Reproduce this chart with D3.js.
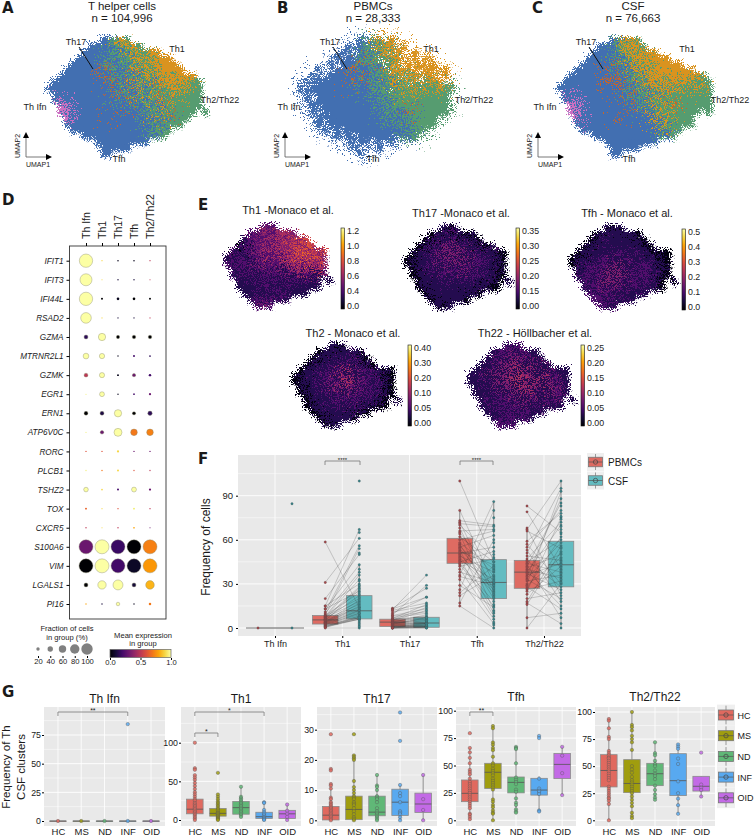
<!DOCTYPE html>
<html>
<head>
<meta charset="utf-8">
<script src="https://cdn.jsdelivr.net/npm/d3@7"></script>
<style>
body { margin: 0; background: #fff; }
text { font-family: "Liberation Sans", Arial, sans-serif; fill: #1a1a1a; }
</style>
</head>
<body>
<svg id="fig" width="755" height="837"></svg>
<script>
var umapA = [
	".........bbgog",
	".......bbbbggoog",
	"......bbbbbgbgoggoo",
	".....bbbbgbgbggoggooo",
	"....bbbbbbgbgbgogooooo",
	"...bbbbbbrbggbgoogooooo",
	"..bbbbbbbbrbbgbgogogooooo",
	".bbbbbbbbrbgbrbgbgogoooogg",
	"bbbbbbbbbbbrgbgogbggogoggg",
	".bbbbbbbbbbbgbogbggrgogggg",
	".bpbbbbbbbbbbgbgbggogggggg",
	"..ppbbbbbbbgbbrbgogbgggggg",
	"..ppbbbbbbbbbbbbgbogrgggg.g",
	"...pbbbbbbrbbbbbgbogbggg",
	"...bbbbbbbbbbbbbbgbgggg",
	"....bbbbbbbbbbbbbgbgg",
	"......bbbbbbbbbbbgbg",
	"........bbbbbbbbb",
	".........bbbbb",
	".........bb"
];
var umapB = [
	"..........b.go.o",
	"........b.bg.ogo.o",
	".......b..bgbgo.o..o",
	"......b.b.gbg.ggo..o.o",
	".....b.bbbbgrg.go.o.o.o",
	"...b..bbbrbbgbg.oo.o.oo.o",
	"..b..bbbbbrbbggog.go.o..o",
	".b.bbbbbrbgbbgbgog.g.goo.",
	"b.bbbbbbbbgbbgg.gogogogogg",
	".b.bbbbbbbbbgbgbggogggggg",
	".b.bbbbbbbbbbgbgggggggggg",
	"..b.bbbbbbbbbbgbggggggggg",
	"..b.bbbbbbbbbgbggbrgggggg",
	"...b.bbbbbbbbbbgbgbgggg",
	"...b.bbbbbbbbbbbbgbgggg",
	"....b.b.bbbbbbbbbgbgg",
	"......b.b.bbbbbb.gbg",
	"........b.b..b.b",
	".........b...b",
	"..........b."
];
var umapC = [
	".........bgoog",
	".......bbbgooog",
	"......bbbbggoogoo",
	".....bbbbgbgoogoooo",
	"....bbbbbbgbgooogoooo",
	"...bbbbbrbbggogoooooooo",
	"..bbbbbbrbbrbggoogoooooog",
	".bbbbbbbrbrbbgbgoogoogoogg",
	"bbbbbbbbbrbbgbgogogggoggog",
	".bbbbbbbbbbbgrbgobggrggggg",
	".bpbbbbbbbbbrgbggggogggggg",
	"..ppbbbbbbbbbgbgoggrgggggg",
	"..ppbbbbbbbbbbbobogogggg.g",
	"...pbbbbbbrbbbbbogogggg",
	"...bbbbbbbbbbbbbbgogggg",
	"....bbbbbbbbbbbbbgbgg",
	"......bbbbbbbbbbbgbg",
	"........bbbbbbbbb",
	".........bbbbb",
	".........bb"
];
var clusterKeys = ["b", "g", "o", "r", "p"];
var clusterColors = ["#426fb1", "#569c70", "#d9931f", "#c4652b", "#cb70c2"];

// gene score maps of panel E, one digit per cell (0 dark, 9 bright)
var scoreTh1 = [
	"......232",
	"....23342433",
	"...12232343435",
	"..0112324354535",
	".2122324243546435",
	"12122324243546453",
	"21212132323444354",
	".2121212213324243",
	".1212112112122212",
	"..11121212121121.1",
	"..11111212111111",
	"...11121112111",
	"....1212121",
	".....232"
];
var scoreTh17 = [
	"......101",
	"....01121101",
	"...0112121110",
	"..0112131211101",
	".0112123131212110",
	"01112131313121110",
	"01112131212121110",
	".0111212131212110",
	".0111212121211110",
	"..01111211121110.1",
	"..01111111111100",
	"...0111111110",
	"....0111110",
	".....101"
];
var scoreTfh = [
	"......101",
	"....01111110",
	"...0121111110",
	"..011111111110",
	".0111111211111100",
	"01111212121211100",
	"01112121312121110",
	".1212131312122110",
	".1212131312122110",
	"..21213131212110.1",
	"..12123121212110",
	"...2121212111",
	"....2212111",
	".....212"
];
var scoreTh2 = [
	"......101",
	"....01111110",
	"...0111112110",
	"..011112121210",
	".0111212131212110",
	"01112122413121110",
	"01112131413121210",
	".0111213132212110",
	".0111212131212110",
	"..01112121212110.1",
	"..01111212111100",
	"...0111111110",
	"....0111110",
	".....101"
];
var scoreTh22 = [
	"......212",
	"....12121211",
	"...1212131211",
	"..112131313121",
	".1112131413131211",
	"11213131413131211",
	"11213131413141321",
	".1112131314131321",
	".1112121313121321",
	"..12121213121221.1",
	"..11212122121111",
	"...1121212111",
	"....1212121",
	".....212"
];
var tickTh1 = ["1.2", "1.0", "0.8", "0.6", "0.4", "0.0"];
var tickTh17 = ["0.35", "0.30", "0.25", "0.20", "0.15", "0.00"];
var tickTfh = ["0.5", "0.4", "0.3", "0.2", "0.1", "0.0"];
var tickTh2 = ["0.40", "0.30", "0.20", "0.10", "0.05", "0.00"];
var tickTh22 = ["0.25", "0.20", "0.15", "0.10", "0.05", "0.00"];

// dot plot, panel D
var dotClusters = ["Th Ifn", "Th1", "Th17", "Tfh", "Th2/Th22"];
var dotGenes = ["IFIT1", "IFIT3", "IFI44L", "RSAD2", "GZMA", "MTRNR2L1", "GZMK", "EGR1", "ERN1", "ATP6V0C", "RORC", "PLCB1", "TSHZ2", "TOX", "CXCR5", "S100A6", "VIM", "LGALS1", "PI16"];
var dotFraction = [
	[95, 5, 7, 7, 5], [85, 4, 6, 6, 4], [95, 10, 15, 15, 10], [75, 4, 5, 5, 4],
	[25, 50, 20, 22, 22], [38, 35, 6, 10, 8], [24, 34, 10, 20, 14], [4, 32, 6, 8, 12],
	[24, 25, 50, 20, 28], [4, 22, 55, 45, 45], [6, 6, 12, 6, 6], [5, 6, 10, 5, 5],
	[30, 8, 10, 32, 12], [10, 4, 6, 10, 6], [6, 4, 6, 8, 4], [100, 100, 100, 100, 100],
	[100, 100, 100, 100, 100], [25, 58, 70, 25, 60], [6, 6, 22, 6, 14]
];
var dotMean = [
	[1, .9, .05, .05, .5], [1, .9, .1, .1, .5], [1, 0, .05, 0, 0], [1, .9, .1, .1, .5],
	[.15, 1, 0, 0, 0], [1, 1, .05, .2, .15], [.5, 1, .05, .3, .2], [.95, 1, .05, .2, .3],
	[0, .12, 1, 0, .15], [.95, .3, 1, .7, .72], [.6, .6, .9, .3, .3], [.95, .7, .9, .6, .5],
	[1, .9, .2, 1, .3], [.65, .9, .6, .95, .5], [.5, .9, .5, .8, .3], [.3, 1, .18, 0, .72],
	[0, 1, .2, .07, .77], [0, 1, 1, .1, .83], [.8, .1, 1, .05, .7]
];
var sizeLegend = [20, 40, 60, 80, 100];
var meanLegend = [0, 0.5, 1];

// paired frequencies, panel F (same index = same donor, extra CSF values have no partner)
var pairCats = ["Th Ifn", "Th1", "Th17", "Tfh", "Th2/Th22"];
var pairSources = ["PBMCs", "CSF"];
var pbmcIfn = [0];
var csfIfn = [0, 84.5];
var pbmcTh1 = [58.5, 31, 20, 15, 15, 13, 13, 11, 10, 9, 8.5, 8, 8, 7.5, 7, 7, 6.5, 6, 6, 5.5, 5, 5, 4.5, 4, 4, 3.5, 3.5, 3, 3, 2.5, 2.5, 2, 2, 1.5, 1.5, 1, 1, .5, .5, 0];
var csfTh1 = [14, 61, 50, 67, 30, 43, 25, 56, 38, 54, 24, 36, 20, 33, 18, 28, 27, 16, 22, 14, 26, 13, 12, 19, 11, 10, 17, 9, 15, 8, 12, 7, 10, 7, 6, 8, 6, 6, 7, 0, 100, 65, 51, 40, 32, 29, 23, 21, 5, 4, 3, 2, 1];
var pbmcTh17 = [13.5, 13, 12.5, 12, 11, 10, 9, 8.5, 8, 7, 6.5, 6, 6, 5.5, 5, 5, 4.5, 4, 4, 3.5, 3.5, 3, 3, 2.5, 2.5, 2, 2, 1.5, 1.5, 1, 1, .8, .5, .5, .2, .2, 0, 0, 0, 0];
var csfTh17 = [27, 21, 36, 17, 15, 21, 29, 13, 11, 10, 16, 8, 7, 14, 6, 12, 7, 5, 9, 4, 6, 3, 5, 3, 7, 2, 4, 2, 3, 1, 2, 1, 1, 3, .5, 1, 0, .5, 0, 2];
var pbmcTfh = [100, 80, 73, 72, 71, 70, 68, 66, 65, 64, 62, 60, 58, 57, 56, 55, 54, 53, 52, 51, 50, 49, 48, 47, 46, 45, 44, 43, 42, 40, 38, 36, 35, 33, 29, 26, 24, 22, 17, 15];
var csfTfh = [45, 30, 70, 25, 69, 48, 22, 67, 35, 12, 45, 66, 40, 20, 30, 63, 28, 10, 43, 55, 26, 38, 24, 8, 33, 52, 18, 15, 47, 6, 31, 86, 29, 3, 14, 80, 42, 36, 60, 0, 75, 4, 2, 58, 50, 41, 39, 34, 32, 27, 23, 21, 16, 11];
var pbmcTh2 = [83, 79, 68, 67, 66, 59, 57, 55, 53, 51, 49, 47, 46, 45, 44, 43, 42, 41, 40, 39, 38, 37, 36, 35, 34, 33, 32, 30, 29, 28, 27, 26, 25, 23, 20, 18, 17, 16, 7, 0];
var csfTh2 = [65, 40, 22, 100, 54, 78, 30, 80, 18, 95, 46, 72, 28, 60, 38, 7, 85, 50, 34, 15, 70, 26, 44, 88, 58, 20, 36, 93, 48, 13, 62, 32, 75, 42, 24, 56, 3, 52, 10, 30, 83, 67, 0, 76, 74, 69, 64, 55, 51, 47, 45, 43, 41, 39, 37, 35, 33, 31];
// low, q1, median, q3, high
var pbmcBoxes = [[0, 0, 0, 0, 0], [0, 2.7, 5.5, 8.5, 15], [0, 1, 4, 6, 13.5], [15, 44, 51, 61, 80], [0, 27, 38, 46, 68]];
var csfBoxes = [[0, 0, 0, 0, 0], [0, 6.2, 11.7, 22, 43], [0, .5, 3.4, 7.3, 17], [0, 20, 31, 46.5, 86], [0, 28, 43, 59, 100]];

// CSF frequencies per disease group, panel G
var groups = ["HC", "MS", "ND", "INF", "OID"];
var groupColors = ["#e0695f", "#a09d0e", "#60b877", "#58a9f0", "#c36ae6"];
var ifnDots = [[0], [0], [0], [84.5, 0], [0]];
var ifnBoxes = [[0, 0, 0, 0, 0], [0, 0, 0, 0, 0], [0, 0, 0, 0, 0], [0, 0, 0, 0, 0], [0, 0, 0, 0, 0]];
var th1Dots = [
	[100, 67, 65, 58, 55, 52, 48, 44, 40, 36, 33, 30, 27, 25, 22, 20, 18, 16, 14, 12, 10, 8, 6, 4, 2, 0],
	[61, 33, 30, 27, 24, 22, 20, 18, 16, 14, 12, 10, 9, 8, 7, 6, 5, 4, 3, 2, 1, 0],
	[43, 30, 28, 26, 24, 22, 20, 18, 16, 14, 12, 10, 8, 6, 4],
	[23, 22, 13, 10, 8, 6, 4, 3, 2, 1, 0],
	[20, 12, 8, 4, 0]
];
var th1Boxes = [[0, 8, 14, 27, 55], [0, 5, 8.6, 15, 30], [3, 7.5, 16, 24, 43], [0, 2, 4.3, 10, 22], [0, 2, 8, 12.5, 20]];
var th17Dots = [
	[28.5, 17, 16.5, 12, 11.5, 10.5, 7.5, 7, 6, 5.5, 5, 4.5, 4, 3.5, 3, 2.5, 2, 1.5, 1, .5, 0],
	[28.5, 21.5, 21, 20.5, 20, 13, 11, 10, 9, 8, 7.5, 7, 6, 5.5, 5, 4, 3, 2, 1, .5, 0],
	[15, 11.5, 11, 10, 8, 7.5, 7, 6, 4, 3, 2.5, 2, 1.5, 1, .5, 0],
	[35.7, 26.3, 11.7, 9, 8, 6, 3, 2.5, 2, 1, 0],
	[15, 7, 3.4, 0]
];
var th17Boxes = [[0, .1, 1.7, 4.6, 11], [0, .2, 3.6, 8, 20], [0, 1.5, 2.7, 8, 15], [0, 1.6, 6, 10.3, 11.7], [0, 2.6, 5.4, 9, 15]];
var tfhDots = [
	[79.5, 66, 62, 57, 52, 46, 44, 42, 38, 35, 33, 31, 29, 27, 25, 23, 21, 19, 17, 15, 13, 11, 6, 5, 3, 1],
	[86, 84, 71, 69, 66, 64, 58, 52, 50, 47, 45, 43, 41, 38, 36, 34, 32, 30, 28, 19, 17, 14, 12, 9, 7, 6, 0],
	[67, 66, 65, 52, 39, 37, 35, 33, 28, 26, 20, 16, 14, 10, 8, 7],
	[77, 75, 38, 29, 27, 26, 24, 9, 8],
	[67, 59, 43, 23]
];
var tfhBoxes = [[0, 17, 24.6, 36.8, 66], [0, 29, 43.8, 52, 86], [7, 25, 34.6, 39.5, 66], [8, 23, 27.6, 38.3, 40], [23, 38, 51, 61, 67]];
var th2Dots = [
	[93.5, 92, 85, 77, 75, 64, 62, 60, 58, 57, 55, 53, 51, 49, 47, 45, 43, 41, 39, 37, 31, 29, 27, 25, 23, 21, 20, 18, 15, 0],
	[100, 88, 86, 83, 78, 75, 72, 65, 50, 47, 44, 40, 37, 35, 33, 31, 29, 27, 25, 22, 19, 16, 13, 7, 4, 2],
	[72, 62, 60, 55, 52, 50, 46, 43, 41, 38, 32, 28, 24, 21, 19],
	[70, 68, 66, 57, 52, 36, 25, 20, 14, 6],
	[62.5, 33, 30, 28, 22]
];
var th2Boxes = [[0, 30.8, 46, 60.6, 93], [2, 25.5, 34, 56, 100], [19, 32, 43, 52.6, 72], [6, 22.8, 36.6, 61.5, 70], [22, 27, 31.4, 40.6, 40.6]];

var svg = d3.select("#fig");
var defs = svg.append("defs");

// grain: pushes every pixel a short way so flat cells read as scattered cells
function addGrain(id, scale, seed) {
	var f = defs.append("filter").attr("id", id)
		.attr("x", "-10%").attr("y", "-10%").attr("width", "120%").attr("height", "120%")
		.attr("color-interpolation-filters", "sRGB");
	f.append("feTurbulence").attr("type", "fractalNoise").attr("baseFrequency", 0.85)
		.attr("numOctaves", 1).attr("seed", seed);
	f.append("feColorMatrix").attr("values", "3.4 0 0 0 -1.2  0 3.4 0 0 -1.2  0 0 1 0 0  0 0 0 0 1").attr("result", "n");
	f.append("feDisplacementMap").attr("in", "SourceGraphic").attr("in2", "n").attr("scale", scale)
		.attr("xChannelSelector", "R").attr("yChannelSelector", "G");
}
addGrain("grainEdge", 6, 9);
addGrain("grainUmap", 22, 4);
addGrain("grainScore", 18, 6);

function addText(g, x, y, s, size, anchor) {
	return g.append("text").attr("x", x).attr("y", y).attr("font-size", size)
		.attr("text-anchor", anchor || "middle").text(s);
}

function gridCells(grid) {
	var cells = [];
	grid.forEach(function(row, r) {
		row.split("").forEach(function(k, c) {
			if (k !== ".") cells.push({c: c, r: r, k: k});
		});
	});
	return cells;
}

var clipCount = 0;

// flat cells below, scattered copy on top; the clip keeps the scatter inside the cloud unless loose
function drawCells(grid, left, top, cell, color, filter, loose) {
	var cols = d3.max(grid, function(d) { return d.length; });
	var x = d3.scaleLinear().domain([0, cols]).range([left, left + cols * cell]);
	var y = d3.scaleLinear().domain([0, grid.length]).range([top, top + grid.length * cell]);
	var cells = gridCells(grid);
	function put(sel) {
		sel.selectAll("rect").data(cells).join("rect")
			.attr("x", function(d) { return x(d.c); })
			.attr("y", function(d) { return y(d.r); })
			.attr("width", cell + 0.5)
			.attr("height", cell + 0.5);
	}
	var id = "cloud" + (clipCount++);
	put(defs.append("clipPath").attr("id", id));
	var outer = svg.append("g").attr("filter", "url(#grainEdge)");
	var inner = outer.append("g");
	if (!loose) inner.attr("clip-path", "url(#" + id + ")");
	var base = inner.append("g");
	put(base);
	base.selectAll("rect").attr("fill", function(d) { return color(d.k); });
	var mix = inner.append("g").attr("filter", "url(#" + filter + ")");
	put(mix);
	mix.selectAll("rect").attr("fill", function(d) { return color(d.k); });
}

// panels A-C
var clusterColor = d3.scaleOrdinal().domain(clusterKeys).range(clusterColors);

function drawUmap(grid, left, arrowX, dx, title, n, letter, letterX, titleX, loose) {
	drawCells(grid, left, 37, 6, clusterColor, "grainUmap", loose);
	var g = svg.append("g");
	addText(g, letterX, 13, letter, 15, "start").attr("font-weight", "bold").style("font-family", "'DejaVu Sans'");
	addText(g, titleX, 10, title, 11.5);
	addText(g, titleX, 22, n, 11.5);
	addText(g, 76 + dx, 45, "Th17", 9);
	addText(g, 177 + dx, 52, "Th1", 9);
	addText(g, 220 + dx, 103, "Th2/Th22", 9);
	addText(g, 35 + dx, 110, "Th Ifn", 9);
	addText(g, 119 + dx, 162, "Tfh", 9);
	g.append("line").attr("x1", 79 + dx).attr("y1", 47).attr("x2", 93 + dx).attr("y2", 69)
		.attr("stroke", "#111").attr("stroke-width", 1);
	g.append("path").attr("fill", "none").attr("stroke", "#555").attr("stroke-width", 0.8)
		.attr("d", "M" + arrowX + ",136V157H" + (arrowX + 22));
	g.append("path").attr("d", "M" + (arrowX - 3) + ",138L" + arrowX + ",132L" + (arrowX + 3) + ",138Z");
	g.append("path").attr("d", "M" + (arrowX + 20) + ",154L" + (arrowX + 26) + ",157L" + (arrowX + 20) + ",160Z");
	addText(g, arrowX - 6, 146, "UMAP2", 7).attr("transform", "rotate(-90," + (arrowX - 6) + ",146)");
	addText(g, arrowX + 12, 167, "UMAP1", 7);
}
drawUmap(umapA, 46, 26, 0, "T helper cells", "n = 104,996", "A", 2, 122, false);
drawUmap(umapB, 298, 285, 254, "PBMCs", "n = 28,333", "B", 277, 373, true);
drawUmap(umapC, 556, 538, 510, "CSF", "n = 76,663", "C", 532, 633, false);

// panel E
var scoreColor = function(k) { return d3.interpolateInferno(+k / 9 * 0.95 + 0.03); };

function drawColorbar(x0, y0, y1, ticks) {
	var id = "bar" + x0;
	var grad = defs.append("linearGradient").attr("id", id)
		.attr("x1", 0).attr("y1", 1).attr("x2", 0).attr("y2", 0);
	d3.range(0, 1.01, 0.1).forEach(function(t) {
		grad.append("stop").attr("offset", t).attr("stop-color", d3.interpolateInferno(t));
	});
	svg.append("rect").attr("x", x0).attr("y", y0).attr("width", 3.5).attr("height", y1 - y0)
		.attr("fill", "url(#" + id + ")").attr("stroke", "#111").attr("stroke-width", 0.6);
	var y = d3.scalePoint().domain(ticks).range([y0 + 3, y1 - 3]);
	var axis = svg.append("g").attr("transform", "translate(" + (x0 + 4) + ",0)")
		.call(d3.axisRight(y).tickSize(0).tickPadding(2));
	axis.select(".domain").remove();
	axis.selectAll("text").attr("font-size", 8.8).style("font-family", "'Liberation Sans'").attr("fill", "#1a1a1a");
}

function drawScore(grid, left, top, title, titleX, titleY, ticks, barX, barTop) {
	drawCells(grid, left, top, 6, scoreColor, "grainScore", false);
	addText(svg, titleX, titleY, title, 11);
	drawColorbar(barX, barTop, barTop + 81, ticks);
}
addText(svg, 198, 210, "E", 15, "start").attr("font-weight", "bold").style("font-family", "'DejaVu Sans'");
drawScore(scoreTh1, 224, 224, "Th1 -Monaco et al.", 288, 214, tickTh1, 341, 228);
drawScore(scoreTh17, 404, 225, "Th17 -Monaco et al.", 461, 217, tickTh17, 516, 228);
drawScore(scoreTfh, 569, 225, "Tfh - Monaco et al.", 627, 217, tickTfh, 682, 229);
drawScore(scoreTh2, 292, 343, "Th2 - Monaco et al.", 353, 337, tickTh2, 408, 345);
drawScore(scoreTh22, 467, 343, "Th22 - Höllbacher et al.", 535, 337, tickTh22, 581, 345);

// panel D
(function() {
	var x = d3.scalePoint().domain(dotClusters).range([86, 150]);
	var y = d3.scalePoint().domain(dotGenes).range([260.7, 604]);
	var r = d3.scaleLinear().domain([0, 100]).range([0.3, 7]);
	var cells = [];
	dotGenes.forEach(function(gene, i) {
		dotClusters.forEach(function(cluster, j) {
			cells.push({gene: gene, cluster: cluster, frac: dotFraction[i][j], mean: dotMean[i][j]});
		});
	});
	addText(svg, 2, 205, "D", 15, "start").attr("font-weight", "bold").style("font-family", "'DejaVu Sans'");
	svg.append("rect").attr("x", 69.5).attr("y", 246).attr("width", 96.5).attr("height", 373)
		.attr("fill", "none").attr("stroke", "#333").attr("stroke-width", 0.9);
	var left = svg.append("g").attr("transform", "translate(69.5,0)")
		.call(d3.axisLeft(y).tickSize(3).tickPadding(3));
	left.select(".domain").remove();
	left.selectAll("text").attr("font-size", 8.2).attr("font-style", "italic")
		.style("font-family", "'Liberation Sans'").attr("fill", "#1a1a1a");
	var top = svg.append("g").attr("transform", "translate(0,246)")
		.call(d3.axisTop(x).tickSize(3).tickPadding(3));
	top.select(".domain").remove();
	top.selectAll("text").attr("font-size", 10.5).style("font-family", "'Liberation Sans'").attr("fill", "#1a1a1a")
		.attr("text-anchor", "start").attr("dy", "0.35em").attr("x", 7).attr("y", 0)
		.attr("transform", "rotate(-90)");
	svg.append("g").selectAll("circle").data(cells).join("circle")
		.attr("cx", function(d) { return x(d.cluster); })
		.attr("cy", function(d) { return y(d.gene); })
		.attr("r", function(d) { return r(d.frac); })
		.attr("fill", function(d) { return d3.interpolateInferno(d.mean); })
		.attr("stroke", "#8a8a70")
		.attr("stroke-width", function(d) { return d.frac > 15 ? 0.4 : 0; });

	// size and colour legends
	var sx = d3.scalePoint().domain(sizeLegend).range([38, 87]);
	var sr = d3.scaleLinear().domain([20, 100]).range([1.7, 5.7]);
	addText(svg, 67, 631, "Fraction of cells", 7.6);
	addText(svg, 67, 640, "in group (%)", 7.6);
	svg.append("g").selectAll("circle").data(sizeLegend).join("circle")
		.attr("cx", function(d) { return sx(d); })
		.attr("cy", 649)
		.attr("r", function(d) { return sr(d); })
		.attr("fill", "#808080");
	var sa = svg.append("g").attr("transform", "translate(0,656)").call(d3.axisBottom(sx).tickSize(2).tickPadding(1));
	sa.select(".domain").remove();
	sa.selectAll("text").attr("font-size", 7.6).style("font-family", "'Liberation Sans'").attr("fill", "#333");

	addText(svg, 143, 638, "Mean expression", 7.6);
	addText(svg, 143, 646, "in group", 7.6);
	var grad = defs.append("linearGradient").attr("id", "meanBar");
	d3.range(0, 1.01, 0.1).forEach(function(t) {
		grad.append("stop").attr("offset", t).attr("stop-color", d3.interpolateInferno(t));
	});
	svg.append("rect").attr("x", 110).attr("y", 649.5).attr("width", 61).attr("height", 8)
		.attr("fill", "url(#meanBar)").attr("stroke", "#666").attr("stroke-width", 0.7);
	var mx = d3.scaleLinear().domain([0, 1]).range([110, 171]);
	var ma = svg.append("g").attr("transform", "translate(0,658)")
		.call(d3.axisBottom(mx).tickValues(meanLegend).tickFormat(d3.format(".1f")).tickSize(2).tickPadding(0));
	ma.select(".domain").remove();
	ma.selectAll("text").attr("font-size", 7.6).style("font-family", "'Liberation Sans'").attr("fill", "#333");
})();

// ggplot style helpers
function panelBg(g, x0, y0, x1, y1) {
	g.append("rect").attr("x", x0).attr("y", y0).attr("width", x1 - x0).attr("height", y1 - y0).attr("fill", "#e9e9e9");
}
function hGrid(g, y, values, x0, x1, w) {
	g.append("g").selectAll("line").data(values).join("line")
		.attr("x1", x0).attr("x2", x1)
		.attr("y1", function(d) { return y(d); })
		.attr("y2", function(d) { return y(d); })
		.attr("stroke", "#fff").attr("stroke-width", w);
}
function vGrid(g, x, values, y0, y1) {
	g.append("g").selectAll("line").data(values).join("line")
		.attr("x1", function(d) { return x(d); })
		.attr("x2", function(d) { return x(d); })
		.attr("y1", y0).attr("y2", y1)
		.attr("stroke", "#fff").attr("stroke-width", 0.8);
}
function drawBox(g, cx, w, b, y, fill) {
	g.append("line").attr("x1", cx).attr("x2", cx).attr("y1", y(b[0])).attr("y2", y(b[4]))
		.attr("stroke", "#888").attr("stroke-width", 1);
	g.append("rect").attr("x", cx - w / 2).attr("width", w)
		.attr("y", y(b[3])).attr("height", Math.max(y(b[1]) - y(b[3]), 0.5))
		.attr("fill", fill).attr("stroke", "#8a8a8a").attr("stroke-width", 0.8);
	g.append("line").attr("x1", cx - w / 2).attr("x2", cx + w / 2).attr("y1", y(b[2])).attr("y2", y(b[2]))
		.attr("stroke", "#555").attr("stroke-width", 0.8);
}
function bracket(g, x0, x1, yb, stars, size) {
	g.append("path").attr("fill", "none").attr("stroke", "#777").attr("stroke-width", 0.8)
		.attr("d", "M" + x0 + "," + (yb + 4) + "V" + yb + "H" + x1 + "V" + (yb + 4));
	addText(g, (x0 + x1) / 2, yb + 1, stars, size);
}
function drawKey(g, x, yc, w, h, fill, bgX, bgW, bgH) {
	g.append("rect").attr("x", bgX).attr("y", yc - bgH / 2).attr("width", bgW).attr("height", bgH).attr("fill", "#efefef");
	g.append("line").attr("x1", x).attr("x2", x).attr("y1", yc - bgH / 2 + 1).attr("y2", yc + bgH / 2 - 1)
		.attr("stroke", "#777").attr("stroke-width", 0.7);
	g.append("rect").attr("x", x - w / 2).attr("y", yc - h / 2).attr("width", w).attr("height", h)
		.attr("fill", fill).attr("stroke", "#777").attr("stroke-width", 0.8);
	g.append("line").attr("x1", x - w / 2).attr("x2", x + w / 2).attr("y1", yc).attr("y2", yc)
		.attr("stroke", "#555").attr("stroke-width", 0.7);
	g.append("circle").attr("cx", x).attr("cy", yc).attr("r", 2.2).attr("fill", "none")
		.attr("stroke", "#444").attr("stroke-width", 0.7);
}

// panel F
(function() {
	var g = svg.append("g");
	var x0 = 238, x1 = 581, y0 = 455, y1 = 636;
	var pairs = [[pbmcIfn, csfIfn], [pbmcTh1, csfTh1], [pbmcTh17, csfTh17], [pbmcTfh, csfTfh], [pbmcTh2, csfTh2]];
	var x = d3.scalePoint().domain(pairCats).range([275, 544]);
	var y = d3.scaleLinear().domain([0, 90]).range([628, 495.7]);
	var fills = ["#de6b62", "#63bcc1"];
	var dots = ["#a8474a", "#37858b"];
	var dodge = 17;

	addText(g, 198, 464, "F", 15, "start").attr("font-weight", "bold").style("font-family", "'DejaVu Sans'");
	panelBg(g, x0, y0, x1, y1);
	hGrid(g, y, [15, 45, 75, 105], x0, x1, 0.5);
	hGrid(g, y, [0, 30, 60, 90], x0, x1, 0.9);
	vGrid(g, x, pairCats, y0, y1);

	pairCats.forEach(function(cat, i) {
		var cx = x(cat);
		var pb = pbmcBoxes[i], cb = csfBoxes[i];
		if (i === 0) {
			g.append("line").attr("x1", cx - 29).attr("x2", cx + 29).attr("y1", y(0)).attr("y2", y(0))
				.attr("stroke", "#777").attr("stroke-width", 1);
		} else {
			drawBox(g, cx - dodge, 25.5, pb, y, fills[0]);
			drawBox(g, cx + dodge, 25.5, cb, y, fills[1]);
		}
		var a = pairs[i][0], b = pairs[i][1];
		g.append("g").selectAll("line").data(d3.range(Math.min(a.length, b.length))).join("line")
			.attr("x1", cx - dodge)
			.attr("x2", cx + dodge)
			.attr("y1", function(k) { return y(a[k]); })
			.attr("y2", function(k) { return y(b[k]); })
			.attr("stroke", "#333").attr("stroke-opacity", 0.42).attr("stroke-width", 0.55);
		[a, b].forEach(function(vals, s) {
			g.append("g").selectAll("circle").data(vals).join("circle")
				.attr("cx", cx + (s ? dodge : -dodge))
				.attr("cy", function(d) { return y(d); })
				.attr("r", 1.2)
				.attr("fill", dots[s]).attr("stroke", "#444").attr("stroke-width", 0.25);
		});
	});

	var ya = g.append("g").attr("transform", "translate(" + x0 + ",0)")
		.call(d3.axisLeft(y).tickValues([0, 30, 60, 90]).tickSize(2).tickPadding(3));
	ya.select(".domain").remove();
	ya.selectAll("text").attr("font-size", 9.5).style("font-family", "'Liberation Sans'").attr("fill", "#4d4d4d");
	var xa = g.append("g").attr("transform", "translate(0," + y1 + ")")
		.call(d3.axisBottom(x).tickSize(2).tickPadding(3));
	xa.select(".domain").remove();
	xa.selectAll("text").attr("font-size", 9).style("font-family", "'Liberation Sans'").attr("fill", "#333");

	addText(g, 210, 547, "Frequency of cells", 12).attr("transform", "rotate(-90,210,547)");
	bracket(g, 325, 360, 461, "****", 6);
	bracket(g, 460, 493, 461, "****", 6);

	pairSources.forEach(function(name, i) {
		var yc = 462 + i * 18.5;
		drawKey(g, 595.5, yc, 14, 9.5, fills[i], 587, 17, 18);
		addText(g, 608, yc + 4, name, 10, "start");
	});
})();

// panel G
function drawFacet(name, x0, x1, titleY, domainTop, y0Px, yTopPx, ticks, minor, dots, boxes) {
	var g = svg.append("g");
	var yTop = 707, yBot = 826;
	var x = d3.scalePoint().domain(groups).range([x0, x1]).padding(0.6);
	var y = d3.scaleLinear().domain([0, domainTop]).range([y0Px, yTopPx]);
	panelBg(g, x0, yTop, x1, yBot);
	hGrid(g, y, minor, x0, x1, 0.5);
	hGrid(g, y, ticks, x0, x1, 0.9);
	vGrid(g, x, groups, yTop, yBot);
	groups.forEach(function(grp, i) {
		drawBox(g, x(grp), 16.5, boxes[i], y, groupColors[i]);
		g.append("g").selectAll("circle").data(dots[i]).join("circle")
			.attr("cx", x(grp))
			.attr("cy", function(d) { return y(d); })
			.attr("r", 1.7)
			.attr("fill", groupColors[i]).attr("fill-opacity", 0.85)
			.attr("stroke", "#555").attr("stroke-width", 0.4);
	});
	var ya = g.append("g").attr("transform", "translate(" + x0 + ",0)")
		.call(d3.axisLeft(y).tickValues(ticks).tickSize(2).tickPadding(1));
	ya.select(".domain").remove();
	ya.selectAll("text").attr("font-size", 8.8).style("font-family", "'Liberation Sans'").attr("fill", "#4d4d4d");
	var xa = g.append("g").attr("transform", "translate(0," + yBot + ")")
		.call(d3.axisBottom(x).tickSize(0).tickPadding(2.5));
	xa.select(".domain").remove();
	xa.selectAll("text").attr("font-size", 9.5).style("font-family", "'Liberation Sans'").attr("fill", "#333");
	addText(g, (x0 + x1) / 2, titleY, name, 12);
	return {g: g, x: x};
}
addText(svg, 2, 697, "G", 15, "start").attr("font-weight", "bold").style("font-family", "'DejaVu Sans'");
addText(svg, 10, 767, "Frequency of Th", 11.5).attr("transform", "rotate(-90,10,767)");
addText(svg, 25, 767, "CSF clusters", 11.5).attr("transform", "rotate(-90,25,767)");

var fIfn = drawFacet("Th Ifn", 44, 165, 703, 75, 821, 735, [0, 25, 50, 75], [12.5, 37.5, 62.5, 87.5], ifnDots, ifnBoxes);
bracket(fIfn.g, fIfn.x("HC"), fIfn.x("INF"), 712, "**", 7);
var fTh1 = drawFacet("Th1", 181, 301, 703, 100, 820, 742.7, [0, 50, 100], [25, 75, 125], th1Dots, th1Boxes);
bracket(fTh1.g, fTh1.x("HC"), fTh1.x("INF"), 712, "*", 7);
bracket(fTh1.g, fTh1.x("HC"), fTh1.x("MS"), 733, "*", 7);
drawFacet("Th17", 317, 437, 703, 30, 820.3, 729.7, [0, 10, 20, 30], [5, 15, 25, 35], th17Dots, th17Boxes);
var fTfh = drawFacet("Tfh", 456, 576, 701, 100, 820.3, 710.7, [0, 25, 50, 75, 100], [12.5, 37.5, 62.5, 87.5], tfhDots, tfhBoxes);
bracket(fTfh.g, fTfh.x("HC"), fTfh.x("MS"), 712, "**", 7);
drawFacet("Th2/Th22", 595, 715, 701, 100, 820.3, 712, [0, 25, 50, 75, 100], [12.5, 37.5, 62.5, 87.5], th2Dots, th2Boxes);

groups.forEach(function(grp, i) {
	var yc = 715 + i * 20.7;
	drawKey(svg, 726, yc, 15, 10, groupColors[i], 717, 18, 20.7);
	addText(svg, 737.5, yc + 3.5, grp, 9, "start");
});
</script>
</body>
</html>
